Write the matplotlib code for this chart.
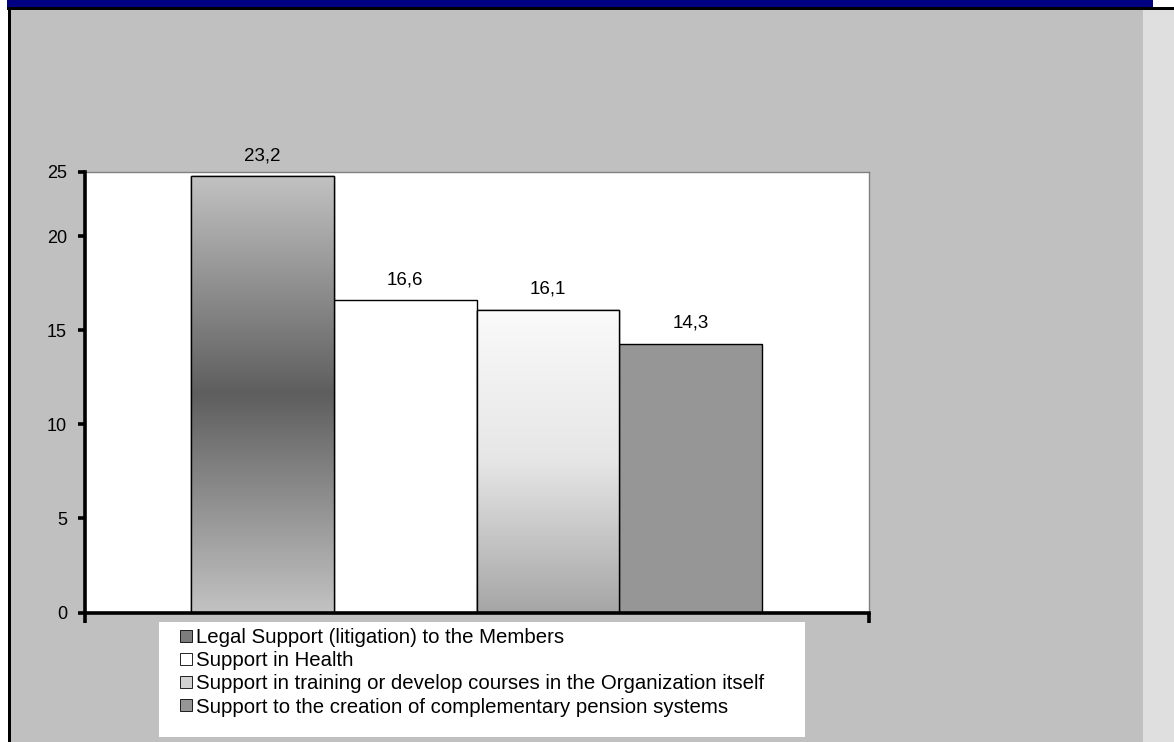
import matplotlib
matplotlib.use("Agg")
import matplotlib.pyplot as plt
import numpy as np
from matplotlib.colors import LinearSegmentedColormap
from matplotlib.patches import Rectangle, Patch

plt.rcParams['font.family'] = ['Liberation Sans', 'DejaVu Sans']

# Data
labels = [
    "Legal Support (litigation) to the Members",
    "Support in Health",
    "Support in training or develop courses in the Organization itself",
    "Support to the creation of complementary pension systems",
]
values = [23.2, 16.6, 16.1, 14.3]
tick_values = [0, 5, 10, 15, 20]
tick_labels = ["0", "5", "10", "15", "20", "25"]
y_top = 23.43

W, H = 1174, 742
fig = plt.figure(figsize=(W / 100, H / 100), dpi=100)
fig.patch.set_facecolor("white")


def px_rect(x0, y0, x1, y1, color, z=0):
    # rectangle given in pixel coordinates measured from the top-left corner
    fig.patches.append(Rectangle((x0 / W, 1 - y1 / H), (x1 - x0) / W, (y1 - y0) / H,
                                 transform=fig.transFigure, facecolor=color,
                                 edgecolor="none", zorder=z))


# window frame
px_rect(10, 9, 1143, H, "#C0C0C0", z=-3)
px_rect(1143, 9, W, H, "#DFDFDF", z=-3)
px_rect(7, 0, 1153, 7, "#000080", z=-3)
px_rect(7, 7, W, 10, "black", z=-3)
px_rect(8, 7, 10.5, H, "black", z=-3)
# legend box below the plot
px_rect(159, 621.5, 805, 737, "white", z=-2)

ax = fig.add_axes([85 / W, 1 - 612.5 / H, (869 - 85) / W, (612.5 - 172) / H])
ax.set_zorder(2)
ax.set_facecolor("white")

x = np.arange(len(values))
bars = ax.bar(x, values, width=1.0, color=["#C0C0C0", "white", "#E0E0E0", "#969696"],
              edgecolor="black", linewidth=1.0, zorder=2)

# gradient fills for the first and third bars
grad_legal = LinearSegmentedColormap.from_list("legal", ["#C2C2C2", "#5E5E5E", "#C2C2C2"])
grad_train = LinearSegmentedColormap.from_list("train", ["#A6A6A6", "#E6E6E6", "#FAFAFA"])
for idx, cmap in [(0, grad_legal), (2, grad_train)]:
    b = bars[idx]
    grad = np.linspace(0, 1, 256).reshape(-1, 1)
    im = ax.imshow(grad, cmap=cmap, aspect="auto", origin="lower", zorder=2.5,
                   extent=[b.get_x(), b.get_x() + b.get_width(), 0, b.get_height()])
    im.set_clip_path(b)
    edge = Rectangle((b.get_x(), 0), b.get_width(), b.get_height(), fill=False,
                     edgecolor="black", linewidth=1.0, zorder=3)
    ax.add_patch(edge)

for xi, v in zip(x, values):
    ax.text(xi, v + 0.65, f"{v:.1f}".replace(".", ","), ha="center", va="bottom",
            fontsize=13.5, zorder=4)

x_lo, x_hi = -1.2426, 4.2496
ax.set_xlim(x_lo, x_hi)
ax.set_ylim(0, y_top)
ax.set_yticks(tick_values + [y_top])
ax.set_yticklabels(tick_labels, fontsize=13)
ax.set_xticks([x_lo, x_hi])
ax.set_xticklabels([])
ax.tick_params(axis="y", direction="out", length=5, width=2.6, pad=8)
ax.tick_params(axis="x", direction="out", length=7, width=2.6)

for side in ["left", "bottom"]:
    ax.spines[side].set_linewidth(2.6)
    ax.spines[side].set_color("black")
    ax.spines[side].set_zorder(5)
for side in ["top", "right"]:
    ax.spines[side].set_linewidth(1.0)
    ax.spines[side].set_color("#808080")

handles = [
    Patch(facecolor="#7C7C7C", edgecolor="black", linewidth=0.6),
    Patch(facecolor="white", edgecolor="black", linewidth=0.6),
    Patch(facecolor="#D2D2D2", edgecolor="black", linewidth=0.6),
    Patch(facecolor="#969696", edgecolor="black", linewidth=0.6),
]
leg = fig.legend(handles, labels, loc="upper left", bbox_to_anchor=(166 / W, 1 - 614 / H),
                 frameon=False, fontsize=14.7, handlelength=0.55, handleheight=0.55,
                 handletextpad=0.2, labelspacing=0.2, borderpad=0.2)
leg.set_zorder(3)

fig.savefig("out.png", dpi=100)
